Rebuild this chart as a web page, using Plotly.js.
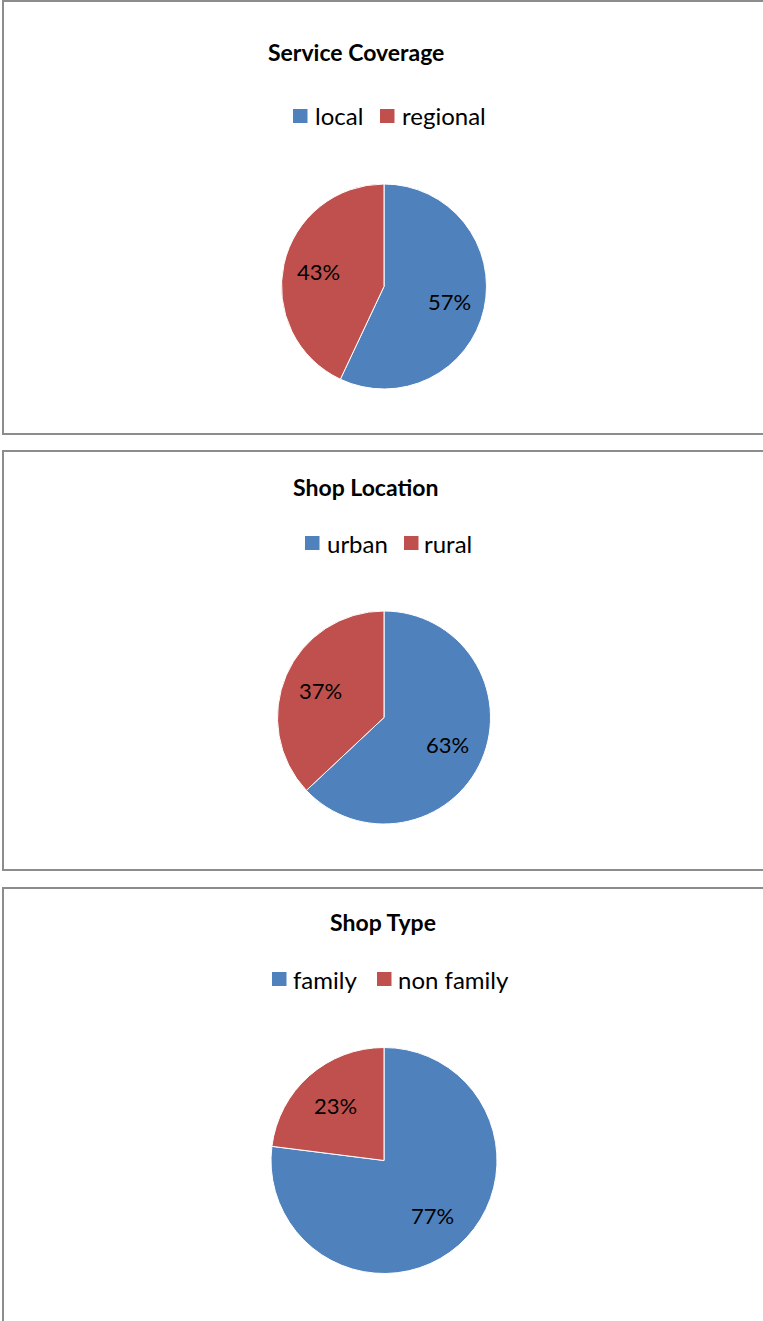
<!DOCTYPE html>
<html>
<head>
<meta charset="utf-8">
<script src="https://cdn.plot.ly/plotly-3.0.1.min.js"></script>
<style>html,body{margin:0;padding:0;background:#fff;}#chart{width:763px;height:1321px;}</style>
</head>
<body>
<div id="chart"></div>
<script>
// ---- data ----
const titles = ["Service Coverage", "Shop Location", "Shop Type"];
const coverageLabels = ["local", "regional"];
const coverageValues = [57, 43];
const locationLabels = ["urban", "rural"];
const locationValues = [63, 37];
const typeLabels = ["family", "non family"];
const typeValues = [77, 23];
const sliceColors = ["#4F81BD", "#C0504D"];

// ---- layout helpers (pixel -> paper) ----
const W = 763, H = 1321;
const px = x => x / W;
const py = y => 1 - y / H;
const FONT = "Lato, 'Liberation Sans', sans-serif";

const panels = [
  {labels: coverageLabels, values: coverageValues, cx: 384, cy: 286.5, r: 102.5,
   titleX: 356, titleY: 52, legY: 116, sq: [293, 380], txt: [314, 401], box: [1, 434]},
  {labels: locationLabels, values: locationValues, cx: 384, cy: 717.5, r: 106.5,
   titleX: 365, titleY: 487, legY: 543, sq: [305, 404], txt: [326, 423], box: [451, 870]},
  {labels: typeLabels, values: typeValues, cx: 384, cy: 1160.5, r: 113,
   titleX: 383, titleY: 922, legY: 979, sq: [272, 377], txt: [292, 397], box: [888, 1330]}
];

const data = panels.map(p => ({
  type: "pie",
  labels: p.labels,
  values: p.values,
  sort: false,
  direction: "clockwise",
  rotation: 0,
  marker: {colors: sliceColors, line: {color: "#ffffff", width: 1}},
  textinfo: "none",
  hoverinfo: "label+percent",
  showlegend: false,
  domain: {x: [px(p.cx - p.r), px(p.cx + p.r)], y: [py(p.cy + p.r), py(p.cy - p.r)]}
}));

const shapes = [];
const annotations = [];
panels.forEach((p, i) => {
  // panel border
  shapes.push({type: "rect", xref: "paper", yref: "paper",
    x0: px(3), x1: px(W + 10), y0: py(p.box[1]), y1: py(p.box[0]),
    line: {color: "#8c8c8c", width: 2}, fillcolor: "rgba(0,0,0,0)"});
  // title
  annotations.push({xref: "paper", yref: "paper", x: px(p.titleX), y: py(p.titleY),
    xanchor: "center", yanchor: "middle", showarrow: false,
    text: "<b>" + titles[i] + "</b>", font: {family: FONT, size: 23, color: "#000000"}});
  // legend
  p.labels.forEach((lab, j) => {
    shapes.push({type: "rect", xref: "paper", yref: "paper",
      x0: px(p.sq[j]), x1: px(p.sq[j] + 14.5), y0: py(p.legY + 7), y1: py(p.legY - 7),
      line: {width: 0}, fillcolor: sliceColors[j]});
    annotations.push({xref: "paper", yref: "paper", x: px(p.txt[j] - 1), y: py(p.legY),
      xanchor: "left", yanchor: "middle", showarrow: false, text: lab,
      font: {family: FONT, size: 24, color: "#000000"}});
  });
  // percentage labels placed along each slice's mid-angle (clockwise from 12 o'clock)
  const total = p.values.reduce((a, b) => a + b, 0);
  let start = 0;
  p.values.forEach(v => {
    const frac = v / total;
    const mid = (start + frac / 2) * 2 * Math.PI;
    start += frac;
    const rr = 0.65 * p.r;
    const x = p.cx + rr * Math.sin(mid);
    const y = p.cy - rr * Math.cos(mid);
    annotations.push({xref: "paper", yref: "paper", x: px(x), y: py(y),
      xanchor: "center", yanchor: "middle", showarrow: false,
      text: Math.round(frac * 100) + "%",
      font: {family: FONT, size: 22, color: "#000000"}});
  });
});

const layout = {
  width: W, height: H,
  margin: {l: 0, r: 0, t: 0, b: 0},
  paper_bgcolor: "#ffffff",
  plot_bgcolor: "#ffffff",
  showlegend: false,
  shapes: shapes,
  annotations: annotations
};

Plotly.newPlot("chart", data, layout, {displayModeBar: false, staticPlot: true});
</script>
</body>
</html>
